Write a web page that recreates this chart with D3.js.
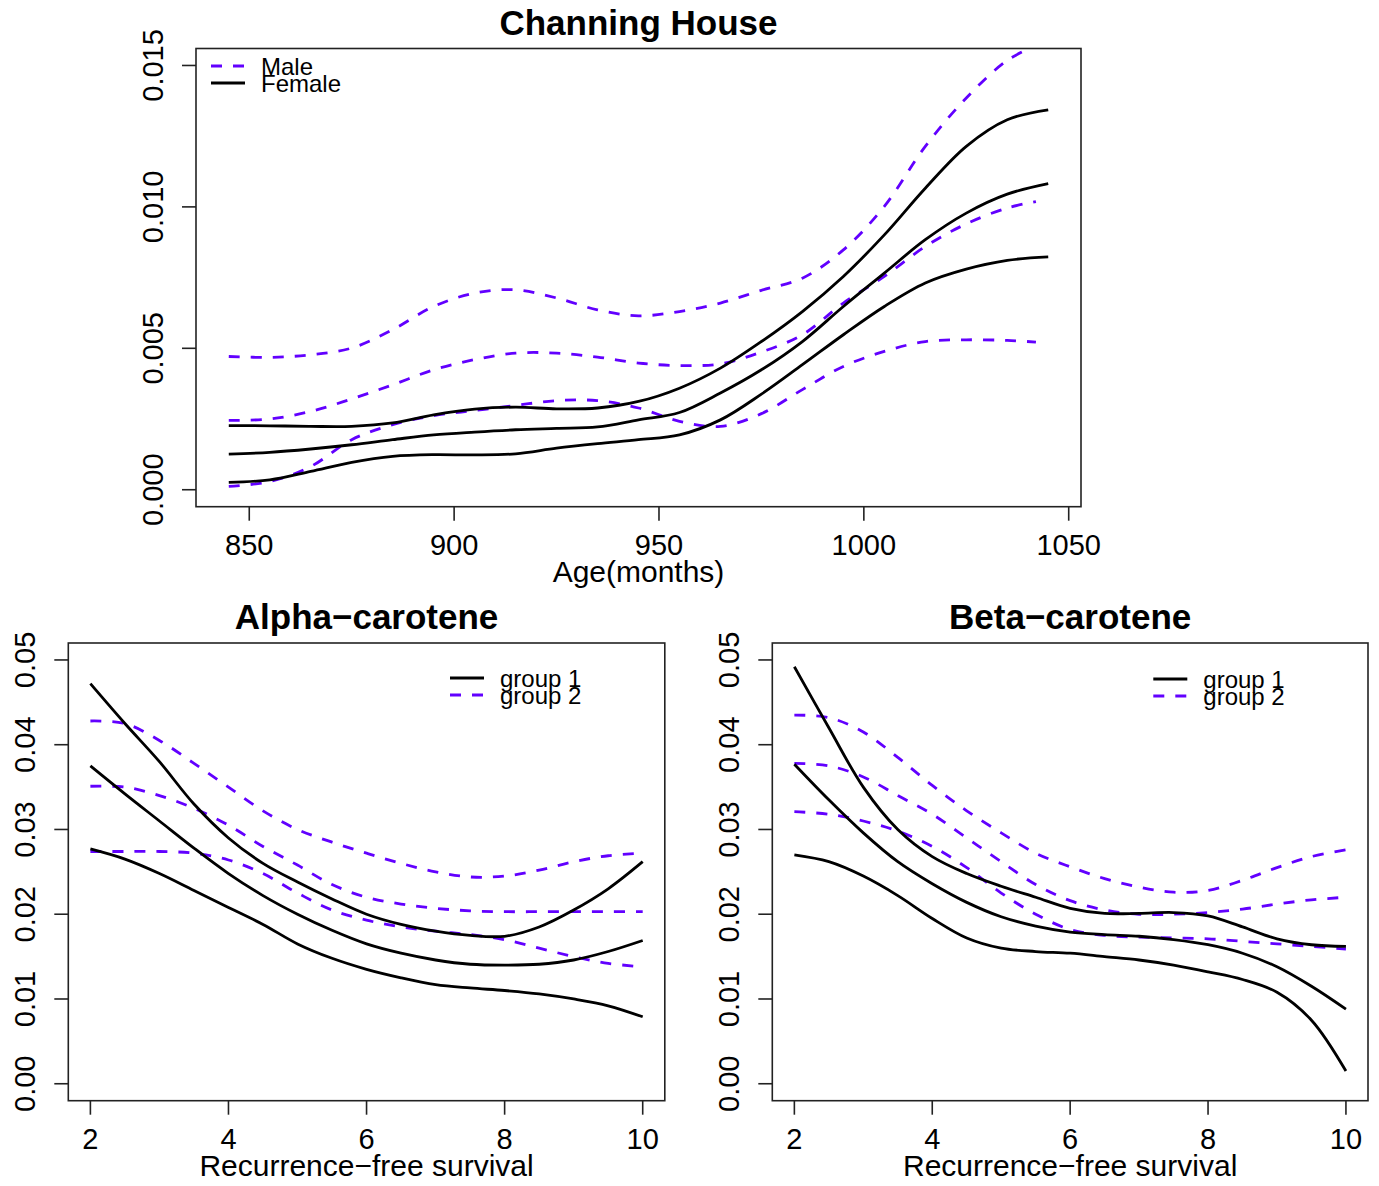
<!DOCTYPE html>
<html>
<head>
<meta charset="utf-8">
<script src="https://cdn.jsdelivr.net/npm/d3@7"></script>
<style>
  body { margin: 0; background: #fff; }
  text { font-family: "Liberation Sans", Arial, Helvetica, sans-serif; fill: #000; }
</style>
</head>
<body>
<svg id="chart" width="1379" height="1186"></svg>
<script>
// Channing House: hazard estimates by age (months)
const ageFemale = [845, 855, 865, 875, 885, 895, 905, 915, 925, 935, 945, 955, 965, 975, 985, 995, 1005, 1015, 1025, 1035, 1045];
const femaleUpper = [0.00227, 0.00226, 0.00224, 0.00224, 0.00236, 0.00265, 0.00285, 0.00292, 0.00286, 0.00289, 0.00312, 0.00359, 0.0043, 0.00524, 0.0063, 0.00754, 0.00901, 0.01066, 0.01214, 0.01308, 0.01343];
const femaleMid = [0.00126, 0.00132, 0.00144, 0.00159, 0.00177, 0.00194, 0.00204, 0.00212, 0.00217, 0.00222, 0.00247, 0.00273, 0.00342, 0.00424, 0.00524, 0.00648, 0.00766, 0.00884, 0.00978, 0.01045, 0.01082];
const femaleLower = [0.00026, 0.00035, 0.00065, 0.00097, 0.00118, 0.00124, 0.00123, 0.00127, 0.00147, 0.00163, 0.00177, 0.00194, 0.00247, 0.00338, 0.00442, 0.00548, 0.00648, 0.00731, 0.0078, 0.00811, 0.00823];

const ageMale = [845, 855, 865, 875, 885, 895, 905, 915, 925, 935, 945, 955, 965, 975, 985, 995, 1005, 1015, 1025, 1035, 1042];
const maleUpper = [0.00471, 0.00468, 0.00477, 0.00501, 0.00566, 0.00648, 0.00695, 0.00707, 0.00678, 0.00636, 0.00615, 0.0063, 0.0066, 0.00705, 0.00748, 0.00848, 0.01002, 0.01214, 0.01385, 0.01518, 0.0157];
const maleMid = [0.00245, 0.0025, 0.00277, 0.00321, 0.00371, 0.00424, 0.0046, 0.00483, 0.00483, 0.00469, 0.00448, 0.00439, 0.00445, 0.00487, 0.00548, 0.0066, 0.00754, 0.0086, 0.0094, 0.00996, 0.01019];
const maleLower = [0.00012, 0.00029, 0.00082, 0.00177, 0.0023, 0.00262, 0.0028, 0.00298, 0.00315, 0.00315, 0.00289, 0.00242, 0.00224, 0.00269, 0.00354, 0.00436, 0.00489, 0.00524, 0.0053, 0.00528, 0.00522];

// Recurrence-free survival panels
const survival = [2, 2.5, 3, 3.5, 4, 4.5, 5, 5.5, 6, 6.5, 7, 7.5, 8, 8.5, 9, 9.5, 10];

const alphaG1Upper = [0.0472, 0.0425, 0.038, 0.033, 0.029, 0.026, 0.0238, 0.0218, 0.02, 0.0188, 0.018, 0.0175, 0.0174, 0.0185, 0.0205, 0.023, 0.0262];
const alphaG1Mid = [0.0375, 0.0342, 0.031, 0.0278, 0.0248, 0.0222, 0.02, 0.0181, 0.0165, 0.0154, 0.0146, 0.0141, 0.014, 0.0141, 0.0146, 0.0156, 0.0169];
const alphaG1Lower = [0.0277, 0.0265, 0.0248, 0.0228, 0.0208, 0.0188, 0.0165, 0.0148, 0.0135, 0.0125, 0.0117, 0.0113, 0.011, 0.0106, 0.01, 0.0092, 0.0079];
const alphaG2Upper = [0.0428, 0.0425, 0.0405, 0.0378, 0.035, 0.0322, 0.03, 0.0285, 0.0272, 0.026, 0.025, 0.0244, 0.0245, 0.0252, 0.0262, 0.0269, 0.0272];
const alphaG2Mid = [0.0351, 0.035, 0.034, 0.0325, 0.0305, 0.028, 0.0258, 0.0235, 0.022, 0.0212, 0.0207, 0.0204, 0.0203, 0.0203, 0.0203, 0.0203, 0.0203];
const alphaG2Lower = [0.0274, 0.0274, 0.0274, 0.0272, 0.0264, 0.0248, 0.0225, 0.0205, 0.0193, 0.0185, 0.018, 0.0176, 0.017, 0.016, 0.015, 0.0142, 0.0138];

const betaG1Upper = [0.0492, 0.042, 0.035, 0.03, 0.0268, 0.0248, 0.0233, 0.022, 0.0207, 0.0201, 0.0201, 0.0202, 0.0198, 0.0185, 0.0171, 0.0164, 0.0162];
const betaG1Mid = [0.0377, 0.0335, 0.0296, 0.0262, 0.0236, 0.0214, 0.0197, 0.0186, 0.0179, 0.0176, 0.0174, 0.017, 0.0164, 0.0154, 0.0138, 0.0115, 0.0088];
const betaG1Lower = [0.027, 0.0262, 0.0245, 0.0222, 0.0195, 0.0172, 0.016, 0.0156, 0.0154, 0.015, 0.0146, 0.014, 0.0132, 0.0123, 0.0108, 0.0075, 0.0015];
const betaG2Upper = [0.0435, 0.0432, 0.0415, 0.0385, 0.0352, 0.0322, 0.0296, 0.0272, 0.0256, 0.0242, 0.0232, 0.0226, 0.0228, 0.024, 0.0255, 0.0268, 0.0276];
const betaG2Mid = [0.0378, 0.0375, 0.0362, 0.034, 0.0318, 0.029, 0.0262, 0.0235, 0.0216, 0.0205, 0.02, 0.02, 0.0202, 0.0206, 0.0212, 0.0217, 0.022];
const betaG2Lower = [0.0321, 0.0318, 0.031, 0.0298, 0.028, 0.0255, 0.0225, 0.02, 0.0182, 0.0175, 0.0173, 0.0172, 0.0171, 0.0168, 0.0165, 0.0162, 0.0159];

// ticks
const ageTicks = [850, 900, 950, 1000, 1050];
const hazardTicks = [0, 0.005, 0.01, 0.015];
const survTicks = [2, 4, 6, 8, 10];
const rateTicks = [0, 0.01, 0.02, 0.03, 0.04, 0.05];

const purple = "#6200ff";
const svg = d3.select("#chart");

// R style: 4% padding on both axes
const pad = (lo, hi) => [lo - 0.04 * (hi - lo), hi + 0.04 * (hi - lo)];

function drawPanel(p) {
  const x = d3.scaleLinear().domain(pad(p.xlim[0], p.xlim[1])).range([p.left, p.right]);
  const y = d3.scaleLinear().domain(pad(p.ylim[0], p.ylim[1])).range([p.bottom, p.top]);
  const clipId = "clip-" + p.id;

  svg.append("clipPath").attr("id", clipId)
    .append("rect")
    .attr("x", p.left).attr("y", p.top)
    .attr("width", p.right - p.left).attr("height", p.bottom - p.top);

  const line = (xs) => d3.line()
    .x((d, i) => x(xs[i]))
    .y((d) => y(d))
    .curve(d3.curveCatmullRom);

  const g = svg.append("g").attr("clip-path", `url(#${clipId})`);
  p.series.forEach(function (s) {
    g.append("path")
      .attr("d", line(s.xs)(s.ys))
      .attr("fill", "none")
      .attr("stroke", s.dashed ? purple : "#000")
      .attr("stroke-width", 2.8)
      .attr("stroke-dasharray", s.dashed ? "11,11" : null);
  });

  // box
  svg.append("rect")
    .attr("x", p.left).attr("y", p.top)
    .attr("width", p.right - p.left).attr("height", p.bottom - p.top)
    .attr("fill", "none").attr("stroke", "#222").attr("stroke-width", 1.6);

  // x ticks
  p.xticks.forEach(function (t) {
    svg.append("line")
      .attr("x1", x(t)).attr("x2", x(t))
      .attr("y1", p.bottom).attr("y2", p.bottom + 14)
      .attr("stroke", "#222").attr("stroke-width", 1.6);
    svg.append("text")
      .attr("x", x(t)).attr("y", p.bottom + 48)
      .attr("text-anchor", "middle")
      .attr("font-size", 29)
      .text(t);
  });

  // y ticks
  p.yticks.forEach(function (t) {
    svg.append("line")
      .attr("x1", p.left).attr("x2", p.left - 14)
      .attr("y1", y(t)).attr("y2", y(t))
      .attr("stroke", "#222").attr("stroke-width", 1.6);
    svg.append("text")
      .attr("transform", `translate(${p.left - 33},${y(t)}) rotate(-90)`)
      .attr("text-anchor", "middle")
      .attr("font-size", 29)
      .text(p.yfmt(t));
  });

  // title
  svg.append("text")
    .attr("x", (p.left + p.right) / 2).attr("y", p.top - 14)
    .attr("text-anchor", "middle")
    .attr("font-size", 35).attr("font-weight", "bold")
    .text(p.title);

  // x label
  svg.append("text")
    .attr("x", (p.left + p.right) / 2).attr("y", p.bottom + 75)
    .attr("text-anchor", "middle")
    .attr("font-size", 30)
    .text(p.xlabel);

  // legend
  p.legend.items.forEach(function (it, i) {
    const ly = p.legend.y + i * 17;
    svg.append("line")
      .attr("x1", p.legend.x).attr("x2", p.legend.x + 34)
      .attr("y1", ly).attr("y2", ly)
      .attr("stroke", it.dashed ? purple : "#000")
      .attr("stroke-width", 2.8)
      .attr("stroke-dasharray", it.dashed ? "11,11" : null);
    svg.append("text")
      .attr("x", p.legend.x + 50).attr("y", ly + 8.5)
      .attr("font-size", 24)
      .text(it.label);
  });
}

drawPanel({
  id: "channing",
  left: 196, right: 1081, top: 48.5, bottom: 506.7,
  xlim: [845, 1045], ylim: [0, 0.015],
  xticks: ageTicks, yticks: hazardTicks,
  yfmt: d3.format(".3f"),
  title: "Channing House", xlabel: "Age(months)",
  series: [
    { xs: ageMale, ys: maleUpper, dashed: true },
    { xs: ageMale, ys: maleMid, dashed: true },
    { xs: ageMale, ys: maleLower, dashed: true },
    { xs: ageFemale, ys: femaleUpper, dashed: false },
    { xs: ageFemale, ys: femaleMid, dashed: false },
    { xs: ageFemale, ys: femaleLower, dashed: false }
  ],
  legend: { x: 211, y: 66, items: [{ label: "Male", dashed: true }, { label: "Female", dashed: false }] }
});

drawPanel({
  id: "alpha",
  left: 68.3, right: 664.8, top: 643, bottom: 1100.7,
  xlim: [2, 10], ylim: [0, 0.05],
  xticks: survTicks, yticks: rateTicks,
  yfmt: d3.format(".2f"),
  title: "Alpha\u2212carotene", xlabel: "Recurrence\u2212free survival",
  series: [
    { xs: survival, ys: alphaG2Upper, dashed: true },
    { xs: survival, ys: alphaG2Mid, dashed: true },
    { xs: survival, ys: alphaG2Lower, dashed: true },
    { xs: survival, ys: alphaG1Upper, dashed: false },
    { xs: survival, ys: alphaG1Mid, dashed: false },
    { xs: survival, ys: alphaG1Lower, dashed: false }
  ],
  legend: { x: 450, y: 678, items: [{ label: "group 1", dashed: false }, { label: "group 2", dashed: true }] }
});

drawPanel({
  id: "beta",
  left: 772.3, right: 1368, top: 643, bottom: 1100.7,
  xlim: [2, 10], ylim: [0, 0.05],
  xticks: survTicks, yticks: rateTicks,
  yfmt: d3.format(".2f"),
  title: "Beta\u2212carotene", xlabel: "Recurrence\u2212free survival",
  series: [
    { xs: survival, ys: betaG2Upper, dashed: true },
    { xs: survival, ys: betaG2Mid, dashed: true },
    { xs: survival, ys: betaG2Lower, dashed: true },
    { xs: survival, ys: betaG1Upper, dashed: false },
    { xs: survival, ys: betaG1Mid, dashed: false },
    { xs: survival, ys: betaG1Lower, dashed: false }
  ],
  legend: { x: 1153.3, y: 679, items: [{ label: "group 1", dashed: false }, { label: "group 2", dashed: true }] }
});
</script>
</body>
</html>
